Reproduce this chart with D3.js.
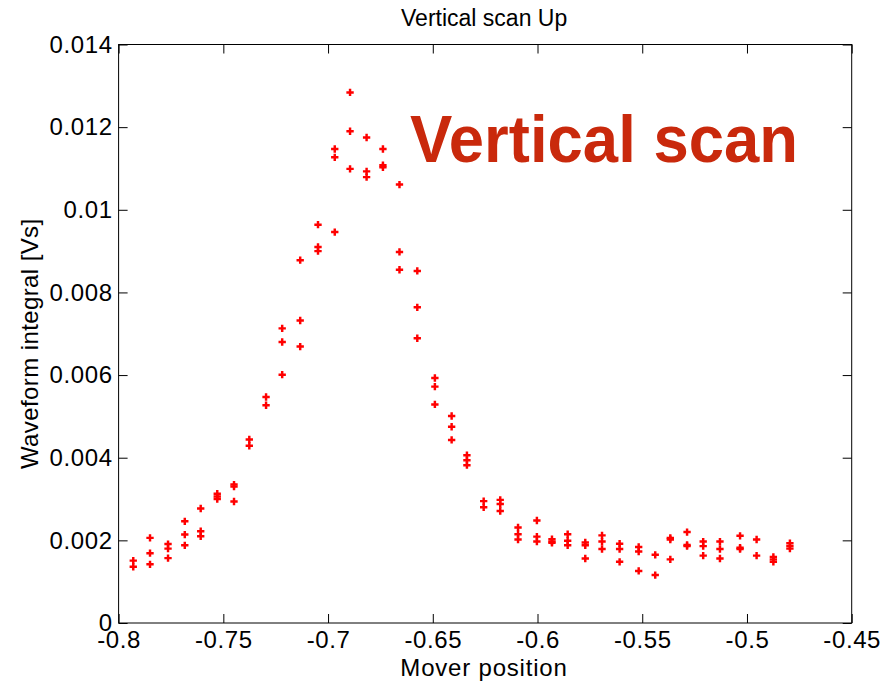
<!DOCTYPE html>
<html>
<head>
<meta charset="utf-8">
<script src="https://cdn.jsdelivr.net/npm/d3@7"></script>
<style>
  html, body { margin: 0; padding: 0; background: #fff; }
  svg { display: block; }
  text { font-family: "Liberation Sans", Arial, sans-serif; fill: #000; }
</style>
</head>
<body>
<svg id="chart" width="894" height="686"></svg>
<script>
// Mover positions of each scan step
const positions = [
  -0.7930, -0.7850, -0.7764, -0.7684, -0.7608, -0.7529, -0.7449, -0.7376,
  -0.7296, -0.7219, -0.7133, -0.7048, -0.6968, -0.6895, -0.6816, -0.6738,
  -0.6659, -0.6574, -0.6490, -0.6410, -0.6337, -0.6257, -0.6178, -0.6093,
  -0.6003, -0.5931, -0.5856, -0.5772, -0.5692, -0.5608, -0.5517, -0.5438,
  -0.5366, -0.5286, -0.5209, -0.5129, -0.5033, -0.4954, -0.4874, -0.4795
];

// Waveform integrals [Vs] recorded at each position (repeated shots)
const integrals = [
  [0.00151, 0.00136],
  [0.00206, 0.00169, 0.00142],
  [0.00191, 0.00180, 0.00157],
  [0.00246, 0.00214, 0.00188],
  [0.00277, 0.00222, 0.00210],
  [0.00313, 0.00306, 0.00300],
  [0.00335, 0.00330, 0.00294],
  [0.00444, 0.00429],
  [0.00547, 0.00527],
  [0.00713, 0.00680, 0.00601],
  [0.00878, 0.00732, 0.00669],
  [0.00964, 0.00910, 0.00900],
  [0.01147, 0.01127, 0.00946],
  [0.01284, 0.01190, 0.01099],
  [0.01175, 0.01093, 0.01079],
  [0.01147, 0.01108, 0.01103],
  [0.01061, 0.00898, 0.00855],
  [0.00852, 0.00764, 0.00689],
  [0.00593, 0.00572, 0.00529],
  [0.00501, 0.00475, 0.00443],
  [0.00406, 0.00394, 0.00382],
  [0.00295, 0.00280],
  [0.00298, 0.00288, 0.00271],
  [0.00231, 0.00215, 0.00202],
  [0.00248, 0.00209, 0.00197],
  [0.00203, 0.00197, 0.00194],
  [0.00215, 0.00199, 0.00188],
  [0.00195, 0.00188, 0.00156],
  [0.00212, 0.00197, 0.00179],
  [0.00192, 0.00179, 0.00148],
  [0.00184, 0.00173, 0.00126],
  [0.00165, 0.00116],
  [0.00206, 0.00202, 0.00154],
  [0.00220, 0.00189, 0.00186],
  [0.00197, 0.00186, 0.00163],
  [0.00197, 0.00179, 0.00156],
  [0.00211, 0.00182, 0.00179],
  [0.00202, 0.00163],
  [0.00160, 0.00154, 0.00148],
  [0.00193, 0.00186, 0.00180]
];

const xTicks = [-0.8, -0.75, -0.7, -0.65, -0.6, -0.55, -0.5, -0.45];
const xTickLabels = ["-0.8", "-0.75", "-0.7", "-0.65", "-0.6", "-0.55", "-0.5", "-0.45"];
const yTicks = [0, 0.002, 0.004, 0.006, 0.008, 0.01, 0.012, 0.014];
const yTickLabels = ["0", "0.002", "0.004", "0.006", "0.008", "0.01", "0.012", "0.014"];

const titleText = "Vertical scan Up";
const xLabelText = "Mover position";
const yLabelText = "Waveform integral [Vs]";
const bannerText = "Vertical scan";

const svg = d3.select("#chart");
const plot = { left: 118.6, right: 851.7, top: 44.5, bottom: 623 };

const x = d3.scaleLinear().domain([-0.8, -0.45]).range([plot.left, plot.right]);
const y = d3.scaleLinear().domain([0, 0.014]).range([plot.bottom, plot.top]);

const points = positions.flatMap((p, i) => integrals[i].map(v => ({ p, v })));

const tickFont = 24;
const labelFont = 24;
const tickLen = 9;

// Box axes with inward ticks on all four sides
const styleAxis = g => {
  g.select(".domain").remove();
  g.selectAll(".tick line").attr("stroke", "#000").attr("stroke-width", 1);
  g.selectAll(".tick text")
    .attr("font-size", tickFont)
    .attr("letter-spacing", 0.6)
    .attr("font-family", "Liberation Sans, Arial, sans-serif")
    .attr("fill", "#000");
};

svg.append("g")
  .attr("transform", `translate(0,${plot.bottom})`)
  .call(d3.axisBottom(x).tickValues(xTicks).tickFormat((d, i) => xTickLabels[i])
    .tickSizeInner(-tickLen).tickSizeOuter(0).tickPadding(8))
  .call(styleAxis);

svg.append("g")
  .attr("transform", `translate(0,${plot.top})`)
  .call(d3.axisTop(x).tickValues(xTicks).tickFormat("")
    .tickSizeInner(-tickLen).tickSizeOuter(0))
  .call(styleAxis);

svg.append("g")
  .attr("transform", `translate(${plot.left},0)`)
  .call(d3.axisLeft(y).tickValues(yTicks).tickFormat((d, i) => yTickLabels[i])
    .tickSizeInner(-tickLen).tickSizeOuter(0).tickPadding(6))
  .call(styleAxis);

svg.append("g")
  .attr("transform", `translate(${plot.right},0)`)
  .call(d3.axisRight(y).tickValues(yTicks).tickFormat("")
    .tickSizeInner(-tickLen).tickSizeOuter(0))
  .call(styleAxis);

svg.append("rect")
  .attr("x", plot.left).attr("y", plot.top)
  .attr("width", plot.right - plot.left).attr("height", plot.bottom - plot.top)
  .attr("fill", "none").attr("stroke", "#000").attr("stroke-width", 1);

// Data markers
const marker = d3.symbol().type(d3.symbolCross).size(30);
svg.append("g")
  .selectAll("path")
  .data(points)
  .join("path")
  .attr("d", marker)
  .attr("transform", d => `translate(${x(d.p)},${y(d.v)})`)
  .attr("fill", "#ff0000");

// Titles
svg.append("text")
  .attr("x", (plot.left + plot.right) / 2 - 1).attr("y", 26)
  .attr("text-anchor", "middle").attr("font-size", 23)
  .text(titleText);

svg.append("text")
  .attr("x", 484).attr("y", 676)
  .attr("text-anchor", "middle").attr("font-size", labelFont)
  .attr("letter-spacing", 0.8)
  .text(xLabelText);

svg.append("text")
  .attr("transform", `translate(38,${(plot.top + plot.bottom) / 2 + 10}) rotate(-90)`)
  .attr("text-anchor", "middle").attr("font-size", labelFont)
  .attr("letter-spacing", 0.4)
  .text(yLabelText);

// Slide annotation
svg.append("text")
  .attr("x", 410).attr("y", 162)
  .attr("font-family", "Lato, 'Open Sans', sans-serif")
  .attr("font-weight", "bold")
  .attr("font-size", 66)
  .attr("textLength", 388).attr("lengthAdjust", "spacingAndGlyphs")
  .style("fill", "#c9290c")
  .text(bannerText);
</script>
</body>
</html>
